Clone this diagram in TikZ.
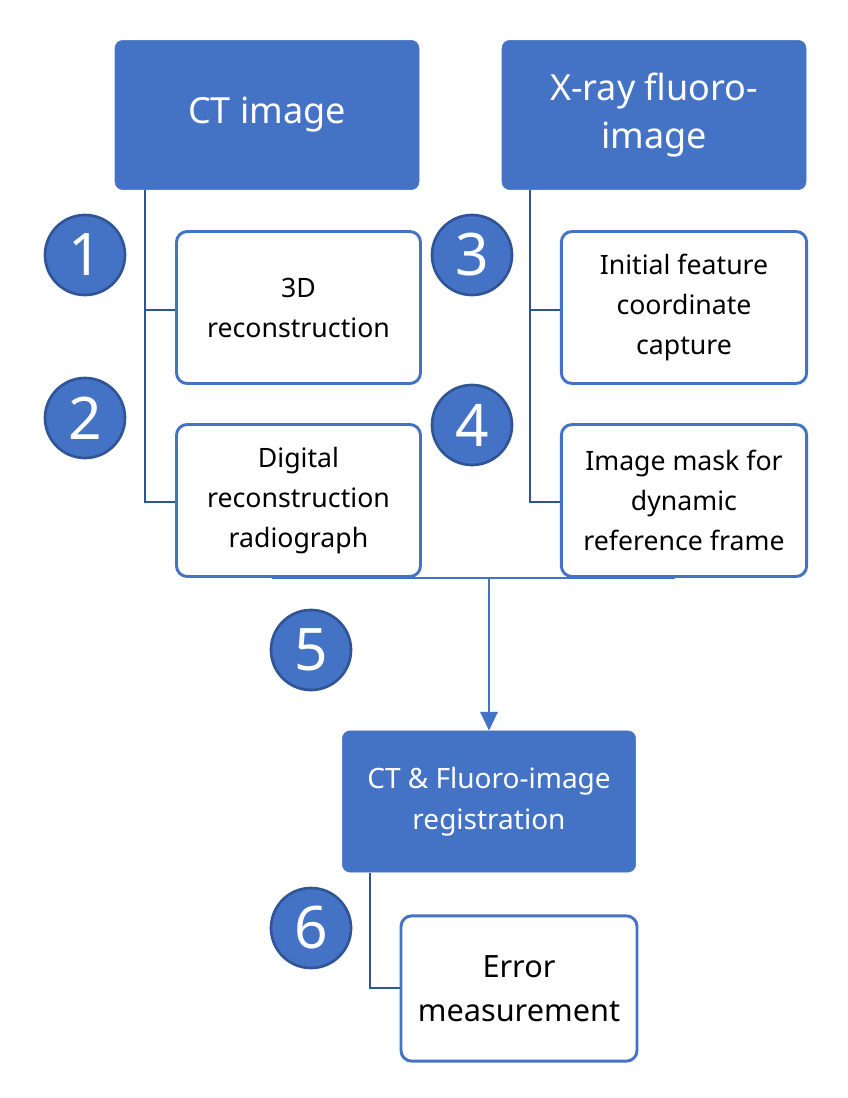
\documentclass[tikz,border=0pt]{standalone}
\usepackage{fontspec}
\setmainfont{Noto Sans}
\usetikzlibrary{arrows.meta}
\definecolor{mb}{HTML}{4472C4}
\definecolor{db}{HTML}{2F5597}
\tikzset{
 x=0.75pt,y=-0.75pt,
 head/.style={fill=mb,draw=mb,rounded corners=6pt,text=white,align=center,font=\bfseries\fontsize{27}{36}\selectfont},
 wbox/.style={draw=mb,line width=2.2pt,fill=white,rounded corners=8pt,align=center,font=\fontsize{20}{30}\selectfont},
 num/.style={circle,fill=mb,draw=db,line width=2pt,minimum size=60pt,inner sep=0pt,text=white,font=\fontsize{44}{44}\selectfont},
 br/.style={draw=db,line width=2.2pt},
 ln/.style={draw=mb,line width=1.5pt}
}
\begin{document}
\begin{tikzpicture}
\useasboundingbox (0,0) rectangle (848,1098);
\fill[white] (0,0) rectangle (848,1098);
% brackets
\draw[br] (145,190) -- (145,502) -- (175,502);
\draw[br] (145,310) -- (175,310);
\draw[br] (530,190) -- (530,502) -- (560,502);
\draw[br] (530,310) -- (560,310);
\draw[br] (370,873) -- (370,988) -- (400,988);
\node[head,minimum width=228pt,minimum height=112pt] (ct) at (267,115) {CT image};
\node[head,minimum width=228pt,minimum height=112pt] (xr) at (654,115) {X-ray fluoro-\\image};
\node[wbox,minimum width=183pt,minimum height=114pt] (a) at (298.5,307.5) {3D\\reconstruction};
\node[wbox,minimum width=183pt,minimum height=114pt] (b) at (298.5,500.5) {Digital\\reconstruction\\radiograph};
\node[wbox,minimum width=184pt,minimum height=114pt] (c) at (684,307.5) {Initial feature\\coordinate\\capture};
\node[wbox,minimum width=184pt,minimum height=114pt] (d) at (684,500.5) {Image mask for\\dynamic\\reference frame};
\node[head,font=\fontsize{21}{31}\selectfont,minimum width=220pt,minimum height=106pt] (r) at (489,801.5) {CT \& Fluoro-image\\registration};
\node[wbox,font=\fontsize{23}{33}\selectfont,minimum width=177pt,minimum height=109pt] (e) at (519,988.5) {Error\\measurement};
\coordinate (m) at (489,578);
\draw[ln] (b.south -| 272,0) -- (d.south -| 675,0);
\draw[ln,-{Triangle[length=14pt,width=13pt]}] (m) -- (r.north);
\node[num] (n1) at (85,255) {1};
\node[num] (n2) at (85,418) {2};
\node[num] (n3) at (472,255) {3};
\node[num] (n4) at (472,425) {4};
\node[num] (n5) at (311,650) {5};
\node[num] (n6) at (311,928) {6};
\end{tikzpicture}
\end{document}
